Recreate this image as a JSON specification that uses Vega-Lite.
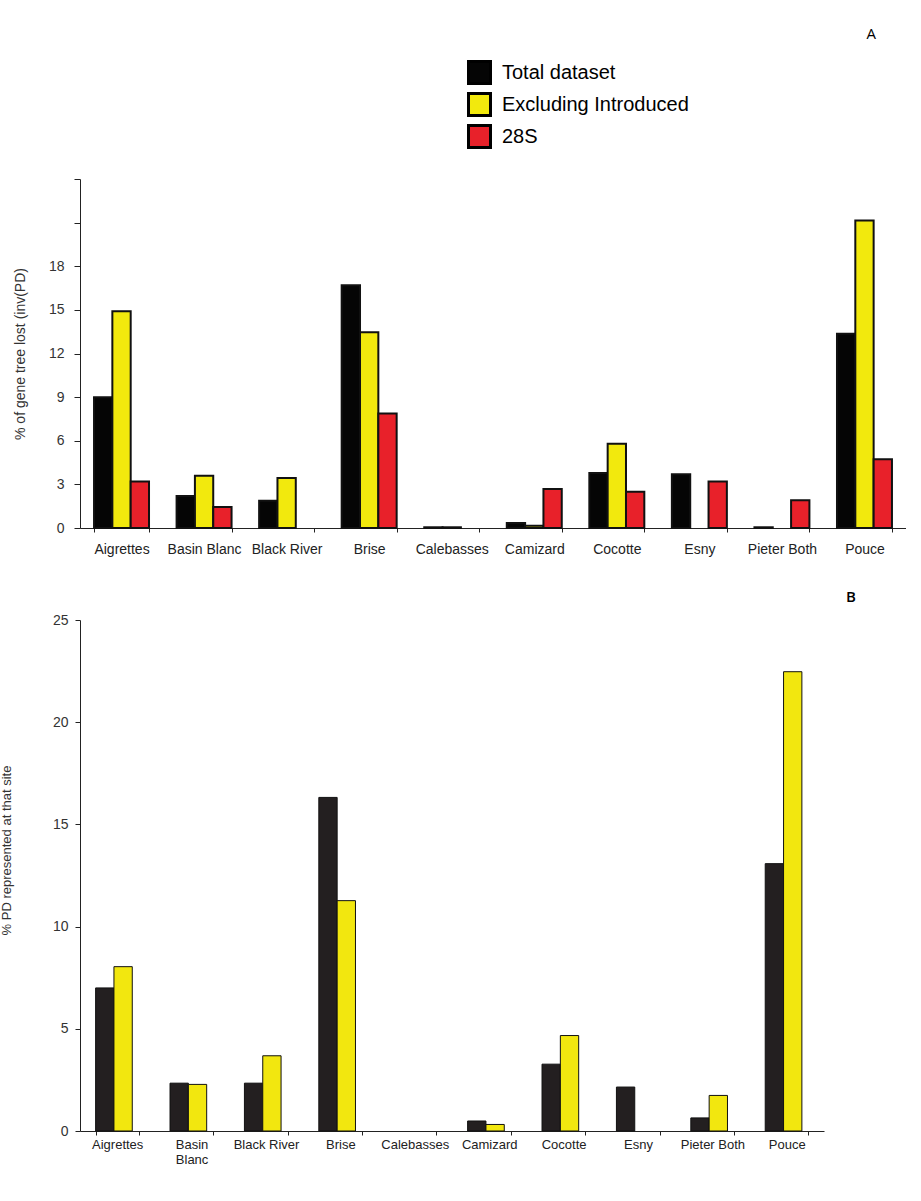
{
  "$schema": "https://vega.github.io/schema/vega-lite/v6.json",
  "padding": {"top": 27, "left": 0, "right": 0, "bottom": 0},
  "bounds": "flush",
  "spacing": 92,
  "background": "white",
  "config": {
    "view": {"stroke": null},
    "font": "Liberation Sans",
    "axis": {"grid": false, "domainColor": "#222", "tickColor": "#222", "labelColor": "#333", "titleColor": "#333", "labelFont": "Liberation Sans", "titleFont": "Liberation Sans", "titleFontWeight": "normal"}
  },
  "datasets": {
    "a": [
      {"site": "Aigrettes", "series": "Total dataset", "value": 9.0},
      {"site": "Aigrettes", "series": "Excluding Introduced", "value": 14.9},
      {"site": "Aigrettes", "series": "28S", "value": 3.2},
      {"site": "Basin Blanc", "series": "Total dataset", "value": 2.2},
      {"site": "Basin Blanc", "series": "Excluding Introduced", "value": 3.6},
      {"site": "Basin Blanc", "series": "28S", "value": 1.45},
      {"site": "Black River", "series": "Total dataset", "value": 1.88},
      {"site": "Black River", "series": "Excluding Introduced", "value": 3.44},
      {"site": "Brise", "series": "Total dataset", "value": 16.7},
      {"site": "Brise", "series": "Excluding Introduced", "value": 13.46},
      {"site": "Brise", "series": "28S", "value": 7.87},
      {"site": "Calebasses", "series": "Total dataset", "value": 0.05},
      {"site": "Calebasses", "series": "Excluding Introduced", "value": 0.05},
      {"site": "Camizard", "series": "Total dataset", "value": 0.34},
      {"site": "Camizard", "series": "Excluding Introduced", "value": 0.15},
      {"site": "Camizard", "series": "28S", "value": 2.68},
      {"site": "Cocotte", "series": "Total dataset", "value": 3.79},
      {"site": "Cocotte", "series": "Excluding Introduced", "value": 5.8},
      {"site": "Cocotte", "series": "28S", "value": 2.5},
      {"site": "Esny", "series": "Total dataset", "value": 3.69},
      {"site": "Esny", "series": "28S", "value": 3.2},
      {"site": "Pieter Both", "series": "Total dataset", "value": 0.05},
      {"site": "Pieter Both", "series": "28S", "value": 1.9},
      {"site": "Pouce", "series": "Total dataset", "value": 13.35},
      {"site": "Pouce", "series": "Excluding Introduced", "value": 21.15},
      {"site": "Pouce", "series": "28S", "value": 4.72}
    ],
    "b": [
      {"site": "Aigrettes", "series": "Total dataset", "value": 7.0},
      {"site": "Aigrettes", "series": "Excluding Introduced", "value": 8.04},
      {"site": "Basin Blanc", "series": "Total dataset", "value": 2.34},
      {"site": "Basin Blanc", "series": "Excluding Introduced", "value": 2.28},
      {"site": "Black River", "series": "Total dataset", "value": 2.34},
      {"site": "Black River", "series": "Excluding Introduced", "value": 3.68},
      {"site": "Brise", "series": "Total dataset", "value": 16.32},
      {"site": "Brise", "series": "Excluding Introduced", "value": 11.27},
      {"site": "Camizard", "series": "Total dataset", "value": 0.49},
      {"site": "Camizard", "series": "Excluding Introduced", "value": 0.32},
      {"site": "Cocotte", "series": "Total dataset", "value": 3.27},
      {"site": "Cocotte", "series": "Excluding Introduced", "value": 4.67},
      {"site": "Esny", "series": "Total dataset", "value": 2.15},
      {"site": "Pieter Both", "series": "Total dataset", "value": 0.64},
      {"site": "Pieter Both", "series": "Excluding Introduced", "value": 1.74},
      {"site": "Pouce", "series": "Total dataset", "value": 13.08},
      {"site": "Pouce", "series": "Excluding Introduced", "value": 22.47}
    ]
  },
  "resolve": {"scale": {"color": "independent"}},
  "vconcat": [
    {
      "width": 826,
      "height": 349,
      "data": {"name": "a"},
      "title": {"text": "A", "anchor": "end", "dx": -30, "offset": 18, "fontSize": 15, "fontWeight": "normal", "font": "Open Sans", "color": "black"},
      "mark": {"type": "bar", "stroke": "#111", "strokeWidth": 2},
      "encoding": {
        "x": {
          "field": "site", "type": "nominal",
          "scale": {"domain": ["Aigrettes", "Basin Blanc", "Black River", "Brise", "Calebasses", "Camizard", "Cocotte", "Esny", "Pieter Both", "Pouce"], "paddingInner": 0.334, "paddingOuter": 0.17},
          "axis": {"title": null, "labelAngle": 0, "tickBand": "extent", "labelFontSize": 14, "labelColor": "#222", "tickSize": 4, "labelPadding": 10}
        },
        "xOffset": {"field": "series", "type": "nominal", "scale": {"domain": ["Total dataset", "Excluding Introduced", "28S"]}},
        "y": {
          "field": "value", "type": "quantitative",
          "scale": {"domain": [0, 24], "nice": false},
          "axis": {"title": "% of gene tree lost (inv(PD)", "values": [0, 3, 6, 9, 12, 15, 18, 21, 24], "labelExpr": "datum.value <= 18 ? datum.label : ''", "labelFontSize": 14, "tickSize": 6, "labelPadding": 10, "titleFontSize": 14, "titlePadding": 21}
        },
        "color": {
          "field": "series", "type": "nominal",
          "scale": {"domain": ["Total dataset", "Excluding Introduced", "28S"], "range": ["#050505", "#f2e90d", "#e8212a"]},
          "legend": {"title": null, "orient": "none", "legendX": 387, "legendY": -119, "padding": 0, "symbolType": "square", "symbolSize": 484, "symbolStrokeWidth": 3, "symbolStrokeColor": "black", "labelFontSize": 20, "labelColor": "black", "labelFont": "Liberation Sans", "labelLimit": 400, "rowPadding": -3, "labelOffset": 10}
        }
      }
    },
    {
      "width": 744,
      "height": 511,
      "data": {"name": "b"},
      "title": {"text": "B", "anchor": "end", "dx": 32, "offset": 8, "fontSize": 15, "fontWeight": 600, "font": "Open Sans", "color": "black"},
      "mark": {"type": "bar", "stroke": "#111", "strokeWidth": 1},
      "encoding": {
        "x": {
          "field": "site", "type": "nominal",
          "scale": {"domain": ["Aigrettes", "Basin Blanc", "Black River", "Brise", "Calebasses", "Camizard", "Cocotte", "Esny", "Pieter Both", "Pouce"], "paddingInner": 0.42, "paddingOuter": 0.21},
          "axis": {"title": null, "labelAngle": 0, "tickBand": "extent", "labelFontSize": 13, "labelColor": "#222", "tickSize": 4, "labelPadding": 3, "labelExpr": "datum.value == 'Basin Blanc' ? ['Basin', 'Blanc'] : datum.label"}
        },
        "xOffset": {"field": "series", "type": "nominal", "scale": {"domain": ["Total dataset", "Excluding Introduced"]}},
        "y": {
          "field": "value", "type": "quantitative",
          "scale": {"domain": [0, 25], "nice": false},
          "axis": {"title": "% PD represented at that site", "values": [0, 5, 10, 15, 20, 25], "labelFontSize": 14, "tickSize": 5, "labelPadding": 7, "titleFontSize": 13, "titlePadding": 39, "titleY": 230}
        },
        "color": {
          "field": "series", "type": "nominal",
          "scale": {"domain": ["Total dataset", "Excluding Introduced"], "range": ["#231f20", "#f2e70f"]},
          "legend": null
        }
      }
    }
  ]
}
